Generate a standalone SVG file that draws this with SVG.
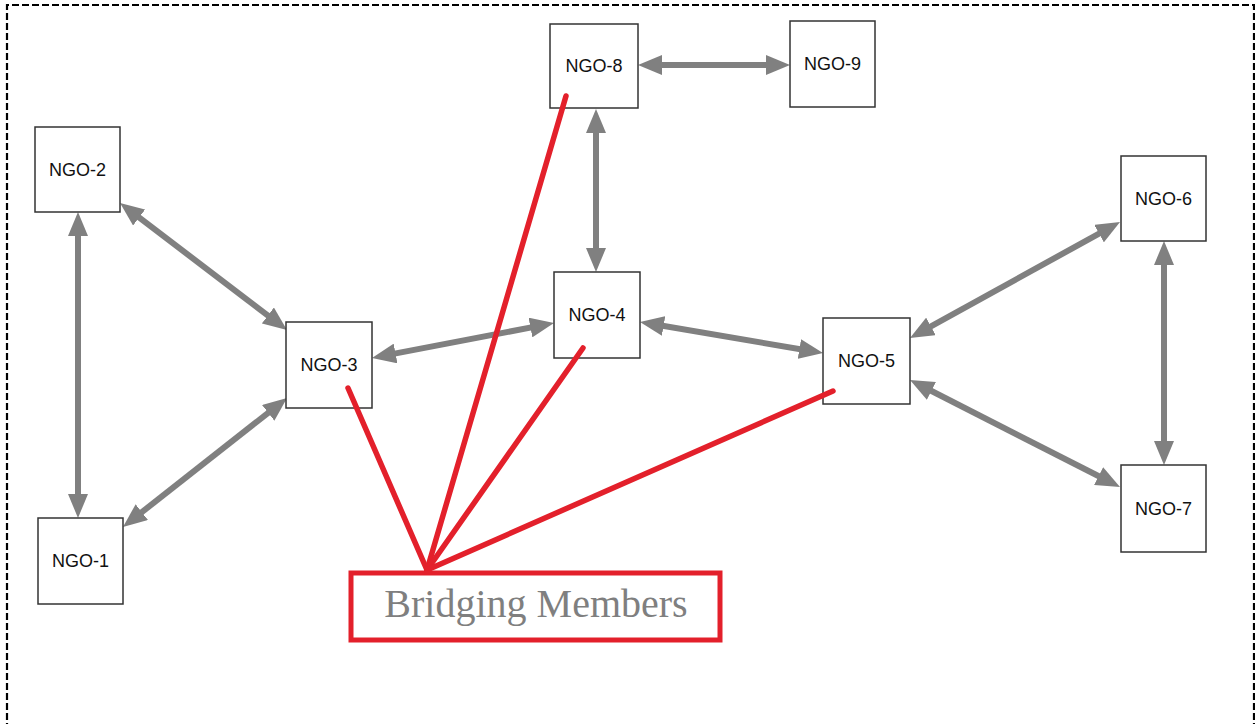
<svg xmlns="http://www.w3.org/2000/svg" width="1255" height="724" viewBox="0 0 1255 724">
  <style>
    .node rect { fill: #ffffff; stroke: #333333; stroke-width: 1.5; }
    .node text { font-family: "Liberation Sans", Arial, sans-serif; font-size: 18px; fill: #111111; text-anchor: middle; dominant-baseline: central; }
    .link { stroke: #808080; stroke-width: 6; fill: none; marker-start: url(#head); marker-end: url(#head); }
    .bridge { stroke: #e3202b; stroke-width: 5.5; stroke-linecap: round; fill: none; }
    .frame { stroke: #000000; stroke-width: 2.2; stroke-dasharray: 7 3; fill: none; }
  </style>
  <defs>
    <marker id="head" viewBox="0 0 24 20" markerWidth="24" markerHeight="20" refX="13" refY="10" markerUnits="userSpaceOnUse" orient="auto-start-reverse">
      <path d="M0,0 L24,10 L0,20 Z" fill="#808080"/>
    </marker>
  </defs>

  <rect x="0" y="0" width="1255" height="724" fill="#ffffff"/>
  <!-- dashed frame: top, left and right edges -->
  <path class="frame" d="M7,730 L7,5 L1254,5 L1254,730"/>

  <!-- bidirectional links between organisations -->
  <g id="connectors">
    <line class="link" x1="649" y1="65" x2="779" y2="65"/>
    <line class="link" x1="596" y1="120" x2="596" y2="261"/>
    <line class="link" x1="128.8" y1="209.7" x2="278.2" y2="323.3"/>
    <line class="link" x1="78" y1="223" x2="78" y2="507"/>
    <line class="link" x1="278.4" y1="404.8" x2="131.6" y2="520.2"/>
    <line class="link" x1="382.8" y1="355.9" x2="543.2" y2="325.1"/>
    <line class="link" x1="650.8" y1="323.8" x2="812.2" y2="351.2"/>
    <line class="link" x1="919.6" y1="332.7" x2="1110.4" y2="227.3"/>
    <line class="link" x1="919.8" y1="385" x2="1110.2" y2="482"/>
    <line class="link" x1="1164" y1="252" x2="1164" y2="454"/>
  </g>

  <g id="ngo-1" class="node"><rect x="38" y="518" width="85" height="86"/><text x="80.5" y="561">NGO-1</text></g>
  <g id="ngo-2" class="node"><rect x="35" y="127" width="85" height="85"/><text x="77.5" y="169.5">NGO-2</text></g>
  <g id="ngo-3" class="node"><rect x="286" y="322" width="86" height="86"/><text x="329" y="365">NGO-3</text></g>
  <g id="ngo-4" class="node"><rect x="554" y="272" width="86" height="86"/><text x="597" y="315">NGO-4</text></g>
  <g id="ngo-5" class="node"><rect x="823" y="318" width="87" height="86"/><text x="866.5" y="361">NGO-5</text></g>
  <g id="ngo-6" class="node"><rect x="1121" y="156" width="85" height="85"/><text x="1163.5" y="198.5">NGO-6</text></g>
  <g id="ngo-7" class="node"><rect x="1121" y="465" width="85" height="87"/><text x="1163.5" y="508.5">NGO-7</text></g>
  <g id="ngo-8" class="node"><rect x="550" y="24" width="88" height="84"/><text x="594" y="66">NGO-8</text></g>
  <g id="ngo-9" class="node"><rect x="790" y="21" width="85" height="86"/><text x="832.5" y="64">NGO-9</text></g>

  <!-- callout marking the bridging members -->
  <g id="bridging-callout">
    <line class="bridge" x1="348" y1="388" x2="427" y2="570"/>
    <line class="bridge" x1="566" y1="96" x2="427" y2="570"/>
    <line class="bridge" x1="583" y1="348" x2="427" y2="570"/>
    <line class="bridge" x1="833" y1="391" x2="427" y2="570"/>
    <rect x="351" y="573" width="369" height="67" fill="#ffffff" stroke="#e3202b" stroke-width="5"/>
    <text x="536" y="617" font-family="'Liberation Serif', 'Times New Roman', serif" font-size="40" fill="#7f7f7f" text-anchor="middle">Bridging Members</text>
  </g>
</svg>
